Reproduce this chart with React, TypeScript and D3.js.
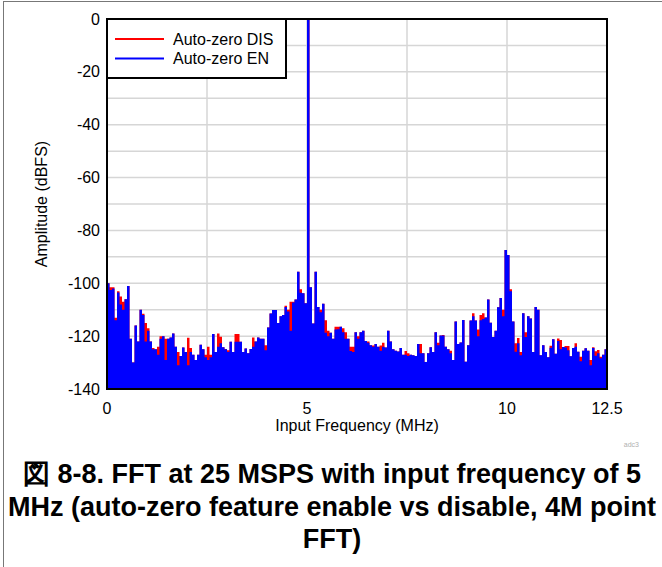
import React from 'react';
import * as d3 from 'd3';

// Frequency bin width (MHz) of the plotted spectrum bars
const BIN_MHZ = 0.0625;

// Auto-zero EN (blue), dBFS per bin
const autoZeroEN = [
  -100, -102.5, -102, -114, -103.5, -108, -110, -106, -101, -121,
  -130, -116, -122, -110, -112, -122, -118, -122, -125, -125,
  -127, -121, -120, -129, -121, -120.5, -119, -124, -131, -127.5,
  -124.3, -126, -131, -126, -127, -129, -127, -123.3, -125, -128,
  -129, -128, -119.2, -126, -124, -122.7, -124.2, -125, -126, -122.1,
  -126, -122.1, -122.1, -122.1, -126, -124.7, -126.5, -124.9, -124, -122,
  -120.5, -121, -121, -125.3, -116.7, -111.4, -110.1, -110.1, -115, -112.5,
  -112, -109, -110.7, -118, -107.3, -106.1, -95.6, -103.6, -103.8, -107.6,
  -0.3, -101.5, -115.2, -95.6, -109, -111, -107.7, -118.7, -120, -118.7,
  -121, -117.5, -117.4, -116.4, -118.5, -121, -121, -125.6, -126, -118.5,
  -121, -118.5, -118, -121.8, -122.5, -123.4, -124, -123, -124, -125.5,
  -124, -124.3, -118, -122, -125, -125.5, -125.8, -124.5, -127, -127,
  -127.5, -127, -127.2, -127.5, -123, -126.5, -126.5, -129.8, -126.5, -124.2,
  -126, -118.5, -123.4, -119.8, -119.8, -124, -125, -126.5, -129, -114.5,
  -123, -122.4, -113.9, -129.7, -123.4, -114.1, -112.5, -114.1, -120, -114,
  -113.5, -112.9, -106.1, -114.9, -120.3, -118, -109.1, -105.6, -112.5, -87.4,
  -89.3, -103, -114.5, -125.9, -122.7, -127.2, -111.3, -120.3, -112.5, -113.3,
  -126, -109, -110, -127.2, -123.4, -126, -128, -124.4, -121.2, -126.7,
  -121.8, -125, -124.1, -124.3, -125.3, -127.6, -124.5, -124, -125.9, -129.5,
  -125.5, -124.6, -125.5, -131, -124.5, -127.4, -126.5, -128.4, -127, -125,
];

// Auto-zero DIS (red), dBFS per bin
const autoZeroDIS = [
  -100, -101.5, -101.5, -113, -103, -105, -107, -106, -101, -121,
  -130, -116, -122, -110, -111.5, -115, -117, -122, -124.5, -125,
  -124, -120, -120, -121, -121, -120.5, -119, -124, -126, -127.5,
  -124.3, -126, -120.6, -124.5, -127, -129, -127, -123.3, -125, -127,
  -124, -127, -119.2, -126, -119, -120.2, -124.2, -124.9, -125.3, -122.1,
  -126, -119.2, -119.2, -122.1, -126, -124.7, -126.5, -124.9, -120.5, -122,
  -120.5, -121, -121, -123.4, -116.7, -111.4, -110.1, -110.1, -115, -112.5,
  -112, -108.5, -110, -107, -107, -106.1, -95.6, -102.3, -103.8, -107.6,
  -0.3, -101.5, -115.2, -95.6, -109, -110, -107.7, -114, -118, -118.7,
  -121, -116.4, -116.4, -116.4, -117, -118.5, -121, -124, -124, -118.5,
  -120, -118.5, -118, -121.8, -122, -123.4, -123.5, -123, -124, -123.5,
  -122.5, -124.3, -118, -122, -125, -125.5, -125.8, -124.5, -127, -125.6,
  -126.5, -127, -127.2, -127.5, -123, -123, -126.5, -129.8, -126.5, -124.2,
  -126, -118.5, -122.5, -119.8, -119.6, -124, -125, -125.5, -129, -114.5,
  -123, -122.4, -113.9, -129.7, -123.4, -114.1, -111.3, -114.1, -117.5, -112,
  -111.3, -112.9, -106.1, -114.9, -120.3, -118, -109.1, -105.6, -110, -87.4,
  -89.3, -102.3, -114.5, -122.7, -120.7, -126, -111.3, -118.5, -112.5, -113.3,
  -126, -109, -110, -127.2, -123.4, -126, -128, -123.6, -121.2, -126.7,
  -120.9, -121.5, -124.1, -123.7, -123.7, -127.6, -124.5, -122.7, -125.9, -127.8,
  -125.5, -124.6, -125.5, -129, -124.2, -125.7, -125.2, -127.8, -127, -125,
];

const xTicks = [0, 5, 10, 12.5];
const xGrid = [2.5, 5, 7.5, 10];
const yTicks = [0, -20, -40, -60, -80, -100, -120, -140];
const yGrid = [-10, -20, -30, -40, -50, -60, -70, -80, -90, -100, -110, -120, -130];
const seriesNames = ['Auto-zero DIS', 'Auto-zero EN'];
const seriesColors = ['#ff0000', '#0000ff'];
const captionLines = [
  '図 8-8. FFT at 25 MSPS with input frequency of 5',
  'MHz (auto-zero feature enable vs disable, 4M point',
  'FFT)',
];

const FONT = '"Liberation Sans", Arial, Helvetica, sans-serif';

export default function App() {
  const W = 662;
  const H = 567;
  const left = 107;
  const right = 607;
  const top = 19;
  const bottom = 389;

  const x = d3.scaleLinear().domain([0, 12.5]).range([left, right]);
  const y = d3.scaleLinear().domain([-140, 0]).range([bottom, top]);

  const toPoints = (vals: number[]) => {
    const pts = vals.map((v, i) => ({ f: i * BIN_MHZ, v }));
    pts.push({ f: 12.5, v: vals[vals.length - 1] });
    return pts;
  };

  const area = d3
    .area<{ f: number; v: number }>()
    .x((d) => x(d.f))
    .y0(y(-140))
    .y1((d) => y(d.v))
    .curve(d3.curveStepAfter);

  const series = [autoZeroDIS, autoZeroEN];

  return (
    <svg
      width={W}
      height={H}
      style={{ position: 'absolute', left: 0, top: 0, background: '#fff' }}
      fontFamily={FONT}
    >
      <rect x={0} y={0} width={W} height={H} fill="#fff" />
      <rect x={3.5} y={1.5} width={W + 20} height={H + 20} fill="none" stroke="#777" strokeWidth={1} />
      <defs>
        <clipPath id="plotClip">
          <rect x={left} y={top} width={right - left} height={bottom - top} />
        </clipPath>
      </defs>

      {/* grid */}
      {yGrid.map((g) => (
        <line key={'yg' + g} x1={left} x2={right} y1={y(g)} y2={y(g)} stroke="#d6d6d6" strokeWidth={1.5} />
      ))}
      {xGrid.map((g) => (
        <line key={'xg' + g} x1={x(g)} x2={x(g)} y1={top} y2={bottom} stroke="#d6d6d6" strokeWidth={1.5} />
      ))}

      {/* spectra */}
      <g clipPath="url(#plotClip)">
        {series.map((vals, i) => (
          <path key={i} d={area(toPoints(vals)) || ''} fill={seriesColors[i]} stroke="none" />
        ))}
      </g>

      {/* frame */}
      <rect x={left} y={top} width={right - left} height={bottom - top} fill="none" stroke="#000" strokeWidth={2} />

      {/* y tick labels */}
      {yTicks.map((t) => (
        <text key={'yt' + t} x={100} y={y(t)} dy="0.35em" textAnchor="end" fontSize={16} fill="#000">
          {t}
        </text>
      ))}
      {/* x tick labels */}
      {xTicks.map((t) => (
        <text key={'xt' + t} x={x(t)} y={414} textAnchor="middle" fontSize={16} fill="#000">
          {t}
        </text>
      ))}

      <text x={(left + right) / 2} y={431} textAnchor="middle" fontSize={16} fill="#000">
        Input Frequency (MHz)
      </text>
      <text
        transform={`translate(47, ${(top + bottom) / 2}) rotate(-90)`}
        textAnchor="middle"
        fontSize={16}
        fill="#000"
      >
        Amplitude (dBFS)
      </text>

      {/* legend */}
      <rect x={left} y={top} width={179} height={59} fill="#fff" stroke="#000" strokeWidth={2} />
      {seriesNames.map((n, i) => (
        <g key={n}>
          <line x1={115} x2={164} y1={39 + i * 19.5} y2={39 + i * 19.5} stroke={seriesColors[i]} strokeWidth={2} />
          <text x={173} y={39 + i * 19.5} dy="0.35em" fontSize={16} fill="#000">
            {n}
          </text>
        </g>
      ))}

      <text x={639} y={447} textAnchor="end" fontSize={7} fill="#b0b0b0">
        adc3
      </text>

      {captionLines.map((l, i) => (
        <text
          key={i}
          x={332}
          y={483 + i * 32.5}
          textAnchor="middle"
          fontSize={27}
          fontWeight="bold"
          fill="#000"
        >
          {l}
        </text>
      ))}
    </svg>
  );
}
